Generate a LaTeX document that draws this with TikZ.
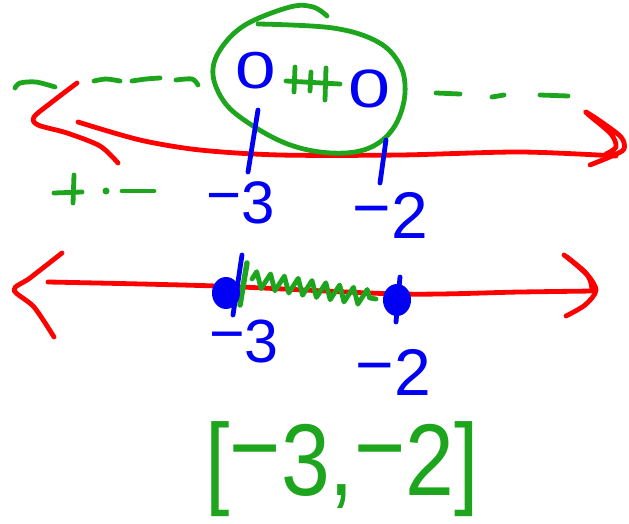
\documentclass[tikz,border=0pt]{standalone}
\usepackage{fontspec}
\setmainfont{Liberation Sans}
\usepackage{graphicx}
\usetikzlibrary{decorations.pathmorphing}
\definecolor{hred}{RGB}{255,0,0}
\definecolor{hgreen}{RGB}{30,165,30}
\definecolor{hblue}{RGB}{0,0,245}
\newcommand{\hminus}{\raisebox{0.12em}{−}}
\begin{document}
\begin{tikzpicture}[x=1pt,y=-1pt,
  ink/.style={line width=4.8pt, line cap=round, line join=round},
  redink/.style={ink, draw=hred},
  greenink/.style={ink, draw=hgreen},
  blueink/.style={ink, draw=hblue},
  lbl/.style={inner sep=0pt, text=hblue},
  glbl/.style={inner sep=0pt, text=hgreen},
]
\useasboundingbox (0,0) rectangle (629,524);

% ---------- top number line ----------
% green dashed shading
\draw[greenink] plot[smooth] coordinates {(15,88) (20,83) (36,82) (55,87)};
\draw[greenink] plot[smooth] coordinates {(94,81) (106,79) (120,81)};
\draw[greenink] plot[smooth] coordinates {(132,81) (146,79) (160,78)};
\draw[greenink] plot[smooth] coordinates {(176,80) (192,79) (198,85)};
\draw[greenink] (436,93) -- (460,94);
\draw[greenink] (492,97) -- (504,95);
\draw[greenink] (540,95) -- (568,96);

% red line with arrowheads
\draw[redink] plot[smooth] coordinates {(78,122) (140,140) (200,150) (280,155) (400,155) (520,152) (616,156)};
\draw[redink] plot[smooth] coordinates {(77,83) (52,102) (34,117) (38,125) (67,133) (100,146) (118,163)};
\draw[redink] plot[smooth] coordinates {(590,165) (612,156) (624,149) (621,137) (600,121) (586,112) (590,116) (611,134) (616,147) (606,154)};

% green circle
\draw[greenink] plot[smooth, tension=0.6] coordinates {(258,24) (333,28) (378,42) (400,65) (405,93) (397,122) (380,142) (355,152) (320,152) (285,143) (250,124) (225,103) (213,75) (220,50) (245,25) (290,7) (313,7) (327,16)};

% zeros and mark between
\node[lbl] (z1) at (256,71) {\scalebox{1.4}[1]{\fontsize{52}{52}\selectfont 0}};
\node[lbl] (z2) at (370,89) {\scalebox{1.4}[1]{\fontsize{54}{54}\selectfont 0}};
\draw[greenink] (286,81) -- (340,84);
\draw[greenink] (295,67) -- (294,92);
\draw[greenink] (311,72) -- (310,91);
\draw[greenink] (326,68) -- (325,100);

% blue ticks
\draw[blueink] (258,110) -- (248,172);
\draw[blueink] (386,140) -- (380,183);

% green + . -
\draw[greenink] (54,193) -- (82,192);
\draw[greenink] (74,175) -- (73,203);
\fill[hgreen] (106,191) circle (3.5pt);
\draw[greenink] (122,191) -- (154,191);

% top labels
\node[lbl, anchor=base east] (t3) at (275,223) {\fontsize{60}{60}\selectfont \hminus3};
\node[lbl, anchor=base east] (t2) at (428,238) {\fontsize{66}{66}\selectfont \hminus2};

% ---------- bottom number line ----------
\draw[redink] plot[smooth] coordinates {(48,282) (216,286) (400,294) (520,292) (594,291)};
\draw[redink] plot[smooth] coordinates {(62,253) (30,278) (14,290) (34,307) (54,337)};
\draw[redink] plot[smooth] coordinates {(564,255) (585,272) (596,290) (585,305) (566,316)};
\draw[redink] plot[smooth] coordinates {(567,257) (588,276) (592,290)};

% shaded segment
\draw[greenink, decorate, decoration={zigzag, segment length=14pt, amplitude=8pt}] (252,279) -- (376,299);
\draw[greenink, line width=5.5pt] (247,263) -- (240,305);

% endpoints
\fill[hblue] (226,293) ellipse (14pt and 16pt);
\fill[hblue] (397,300) ellipse (14pt and 16pt);
\draw[blueink] (242,255) -- (233,315);
\draw[blueink] (400,277) -- (396,322);

% bottom labels
\node[lbl, anchor=base east] (b3) at (279,362) {\fontsize{61}{61}\selectfont \hminus3};
\node[lbl, anchor=base east] (b2) at (431,395) {\fontsize{66}{66}\selectfont \hminus2};

% interval notation
\node[glbl, anchor=base] (iv) at (342,495) {\scalebox{0.86}[1]{\fontsize{102}{102}\selectfont [\hminus3,\hminus2]}};
\end{tikzpicture}
\end{document}
